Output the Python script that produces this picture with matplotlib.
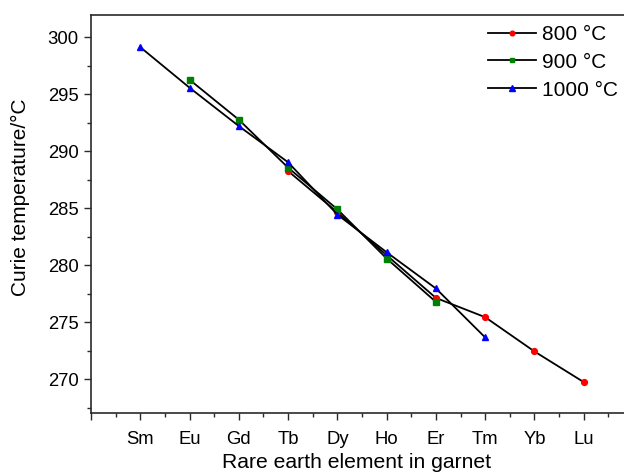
import matplotlib
matplotlib.use("Agg")
import matplotlib.pyplot as plt
from matplotlib.ticker import MultipleLocator, FixedLocator

plt.rcParams['font.family'] = ['Liberation Sans', 'DejaVu Sans']

elements = ["Sm", "Eu", "Gd", "Tb", "Dy", "Ho", "Er", "Tm", "Yb", "Lu"]

# Curie temperature (°C) per sintering temperature
t800_elements = ["Tb", "Dy", "Ho", "Er", "Tm", "Yb", "Lu"]
t800_values = [288.27, 284.65, 280.88, 277.13, 275.44, 272.43, 269.74]

t900_elements = ["Eu", "Gd", "Tb", "Dy", "Ho", "Er"]
t900_values = [296.29, 292.78, 288.57, 284.91, 280.59, 276.78]

t1000_elements = ["Sm", "Eu", "Gd", "Tb", "Dy", "Ho", "Er", "Tm"]
t1000_values = [299.15, 295.59, 292.22, 289.04, 284.45, 281.14, 277.96, 273.66]

series_labels = ["800 °C", "900 °C", "1000 °C"]

W, H = 624, 475
fig = plt.figure(figsize=(W / 100, H / 100), dpi=100)
ax = fig.add_axes([91 / W, (H - 413.3) / H, (633 - 91) / W, (413.3 - 14.7) / H])

pos = {e: i for i, e in enumerate(elements)}

def xs(names):
    return [pos[n] for n in names]

ax.plot(xs(t800_elements), t800_values, color='black', lw=1.3, marker='o',
        ms=4.2, mfc='#ff0000', mec='#ff0000', label=series_labels[0], zorder=3)
ax.plot(xs(t900_elements), t900_values, color='black', lw=1.3, marker='s',
        ms=4.0, mfc='#008000', mec='#008000', label=series_labels[1], zorder=3)
ax.plot(xs(t1000_elements), t1000_values, color='black', lw=1.3, marker='^',
        ms=5.0, mfc='#0000ff', mec='#0000ff', label=series_labels[2], zorder=3)

ax.set_xlim(-1, 10)
ax.set_ylim(267, 302)

ax.xaxis.set_major_locator(FixedLocator(list(range(-1, 11))))
ax.set_xticklabels([""] + elements + [""])
ax.xaxis.set_minor_locator(FixedLocator([i + 0.5 for i in range(-1, 10)]))
ax.yaxis.set_major_locator(MultipleLocator(5))
ax.yaxis.set_minor_locator(MultipleLocator(2.5))

spine_color = '#2a2a2a'
for side in ['left', 'bottom', 'top']:
    ax.spines[side].set_linewidth(1.2)
    ax.spines[side].set_color(spine_color)
ax.spines['right'].set_visible(False)

ax.tick_params(which='major', direction='out', length=5, width=1.0,
               color=spine_color, labelsize=13.3, labelcolor='black', pad=4)
ax.tick_params(which='minor', direction='out', length=3, width=1.0,
               color=spine_color)
ax.tick_params(axis='x', which='major', pad=8)

fig.text(20 / W, 1 - 197 / H, "Curie temperature/°C", rotation=90,
         ha='center', va='center', fontsize=15)
fig.text(357 / W, 1 - 463 / H, "Rare earth element in garnet",
         ha='center', va='center', fontsize=15.2)

handles, labels = ax.get_legend_handles_labels()
leg = ax.legend(handles, labels, loc='upper left',
                bbox_to_anchor=((480 - 91) / (633 - 91), 0.995),
                frameon=False, fontsize=15, handlelength=2.3,
                handletextpad=0.3, labelspacing=0.42, borderaxespad=0,
                markerscale=0.8)

fig.savefig("out.png", dpi=100)
